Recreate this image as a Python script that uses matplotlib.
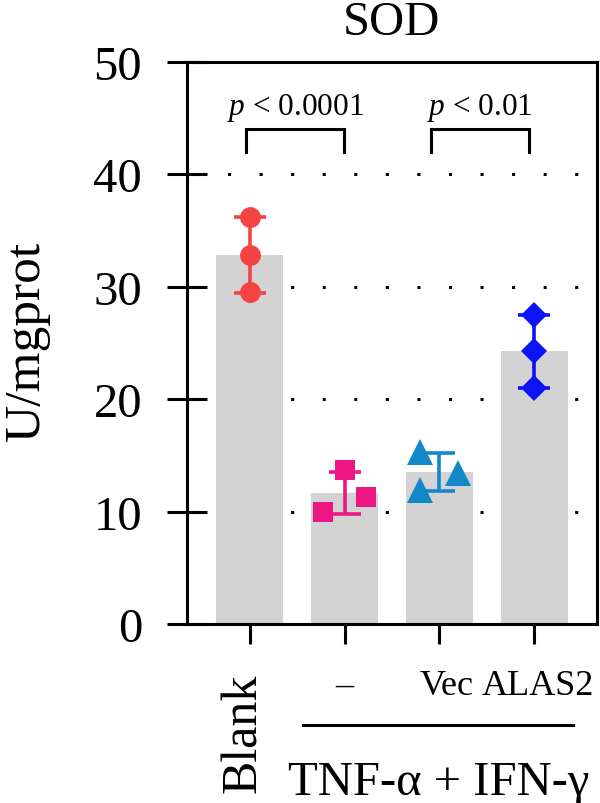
import numpy as np
import matplotlib
matplotlib.use("Agg")
import matplotlib.pyplot as plt

plt.rcParams['font.family'] = ['Liberation Serif', 'DejaVu Serif']
plt.rcParams['mathtext.fontset'] = 'custom'
plt.rcParams['mathtext.rm'] = 'Liberation Serif'
plt.rcParams['mathtext.it'] = 'Liberation Serif:italic'

# ---- data ----
groups = ['Blank', '–', 'Vec', 'ALAS2']
blank_vals = [36.2, 32.8, 29.5]
tnf_vals = [13.7, 11.3, 10.0]
vec_vals = [15.3, 13.4, 11.9]
alas2_vals = [27.5, 24.3, 21.0]
blank_jit = [0.0, 0.0, 0.0]
tnf_jit = [0.0, 0.23, -0.23]
vec_jit = [-0.21, 0.19, -0.21]
alas2_jit = [0.0, 0.0, 0.0]
colors = ['#F54242', '#EE1683', '#1388C8', '#0A14F5']
markers = ['o', 's', '^', 'D']
msizes = [15, 14.5, 19, 13.2]
yticks = [0, 10, 20, 30, 40, 50]
comparisons = [(0, 1, 'p < 0.0001'), (2, 3, 'p < 0.01')]

series = [blank_vals, tnf_vals, vec_vals, alas2_vals]
jitters = [blank_jit, tnf_jit, vec_jit, alas2_jit]

fig = plt.figure(figsize=(6, 8.04), dpi=100)
ax = fig.add_axes([187/600, (804-625)/804, (597-187)/600, (625-63)/804])

x = np.arange(len(groups))
means = [np.mean(v) for v in series]
sds = [np.std(v, ddof=1) for v in series]

ax.bar(x, means, width=0.7, color='#D3D3D3', zorder=1)
for i, (vals, jit) in enumerate(zip(series, jitters)):
    ax.errorbar(x[i], means[i], yerr=sds[i], fmt='none', ecolor=colors[i],
                elinewidth=2.6, capsize=11.5, capthick=2.6, zorder=3)
    ax.plot(x[i] + np.array(jit), vals, linestyle='none', marker=markers[i],
            ms=msizes[i], color=colors[i], markeredgewidth=0, zorder=4)

ax.set_xlim(-0.658, 3.658)
ax.set_ylim(0, 50)
ax.set_yticks(yticks)
ax.set_yticklabels([str(t) for t in yticks], fontsize=35)
ax.set_xticks(x)
ax.set_xticklabels([])

# grid
for gy in [10, 20, 30, 40]:
    ax.axhline(gy, color='black', lw=2.2, linestyle=(7.4, (1, 9.33)),
               dash_capstyle='butt', zorder=0.5)

for s in ax.spines.values():
    s.set_linewidth(2.2)
ax.tick_params(axis='y', direction='inout', length=28.8, width=2.2, pad=18)
ax.tick_params(axis='x', direction='out', length=14.4, width=2.2)

# significance brackets
bracket_x = [(-0.037, 0.995), (1.91, 2.94)]
for (i, j, label), (x1, x2) in zip(comparisons, bracket_x):
    ax.plot([x1, x1, x2, x2], [42.0, 44.0, 44.0, 42.0], color='black', lw=2.2,
            solid_joinstyle='miter', clip_on=False, zorder=5)
    txt = label.replace('p', r'$p$', 1)
    ax.text((x1 + x2) / 2, 45.4, txt, ha='center', va='baseline', fontsize=22.5)

tr = ax.get_xaxis_transform()
ax.text(-0.06, -0.192, groups[0], rotation=90, ha='center', va='center',
        fontsize=36, transform=tr)
ax.text(1.0, -0.1246, groups[1], ha='center', va='baseline', fontsize=26, transform=tr)
ax.text(2.07, -0.1246, groups[2], ha='center', va='baseline', fontsize=26, transform=tr)
ax.text(3.03, -0.1246, groups[3], ha='center', va='baseline', fontsize=26, transform=tr)
ax.plot([0.566, 3.405], [-0.18, -0.18], color='black', lw=2.2, transform=tr, clip_on=False)
ax.text(1.995, -0.3025, 'TNF-α + IFN-γ', ha='center', va='baseline', fontsize=35, transform=tr)

fig.text(391/600, (804-35)/804, 'SOD', ha='center', va='baseline', fontsize=35)
fig.text(27/600, 1 - 341/804, 'U/mgprot', rotation=90, ha='center', va='center', fontsize=37)

fig.savefig('out.png', dpi=100)
